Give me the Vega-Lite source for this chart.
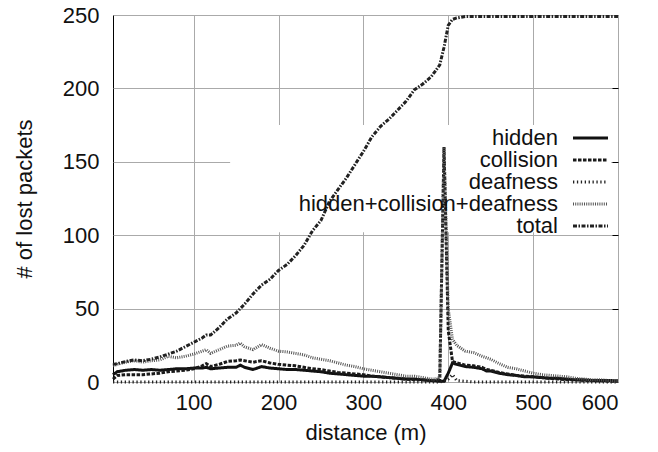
{
  "$schema": "https://vega.github.io/schema/vega-lite/v6.json",
  "width": 505,
  "height": 367,
  "autosize": {"type": "none"},
  "padding": {"left": 113, "top": 15, "right": 40, "bottom": 70},
  "config": {
    "font": "Liberation Sans",
    "view": {"stroke": "black", "strokeWidth": 1},
    "axis": {
      "labelFont": "Liberation Sans", "labelFontSize": 22, "labelColor": "#111",
      "titleFont": "Liberation Sans", "titleFontSize": 22, "titleFontWeight": "normal", "titleColor": "#111",
      "domain": false, "gridColor": "#aaaaaa", "gridWidth": 1, "gridOpacity": 1
    },
    "legend": {
      "orient": "none", "legendX": 466.5, "legendY": 112,
      "labelFont": "Liberation Sans", "labelFontSize": 22, "labelColor": "#111",
      "labelAlign": "right", "labelOffset": -43.5, "labelLimit": 400,
      "symbolType": "M-3.5,0H3.5", "symbolSize": 100, "rowPadding": -0.5, "padding": 0
    }
  },
  "layer": [
    {
      "data": {"values": [{}]},
      "mark": {"type": "rect", "color": "white"},
      "encoding": {
        "x": {"datum": 143, "type": "quantitative", "scale": {"domain": [5, 600], "nice": false, "zero": false}, "axis": null},
        "x2": {"datum": 592},
        "y": {"datum": 102, "type": "quantitative", "scale": {"domain": [0, 250], "nice": false}, "axis": {"orient": "right", "values": [50, 100, 150, 200], "labels": false, "grid": false, "ticks": true, "tickSize": -6, "tickColor": "black", "tickWidth": 1, "title": null, "zindex": 1}},
        "y2": {"datum": 175}
      }
    },
    {
      "data": {"values": [
        {"distance": 5, "hidden": 5, "collision": 2, "deafness": 0, "hidden+collision+deafness": 11, "total": 12},
        {"distance": 10, "hidden": 7, "collision": 4.5, "deafness": 0, "hidden+collision+deafness": 12, "total": 12.5},
        {"distance": 20, "hidden": 8, "collision": 5, "deafness": 0, "hidden+collision+deafness": 13.5, "total": 14},
        {"distance": 30, "hidden": 8.5, "collision": 5, "deafness": 0, "hidden+collision+deafness": 14.5, "total": 15},
        {"distance": 40, "hidden": 8, "collision": 5, "deafness": 0, "hidden+collision+deafness": 13.5, "total": 14.5},
        {"distance": 50, "hidden": 8.5, "collision": 5.5, "deafness": 0, "hidden+collision+deafness": 14.5, "total": 15.5},
        {"distance": 60, "hidden": 8, "collision": 6, "deafness": 0, "hidden+collision+deafness": 15, "total": 17},
        {"distance": 70, "hidden": 8.5, "collision": 7, "deafness": 0, "hidden+collision+deafness": 17.5, "total": 19},
        {"distance": 80, "hidden": 9, "collision": 7.5, "deafness": 0, "hidden+collision+deafness": 16.5, "total": 21},
        {"distance": 90, "hidden": 9, "collision": 8, "deafness": 0, "hidden+collision+deafness": 17.5, "total": 24},
        {"distance": 100, "hidden": 9.5, "collision": 9, "deafness": 0, "hidden+collision+deafness": 19, "total": 27},
        {"distance": 110, "hidden": 9.5, "collision": 11, "deafness": 0, "hidden+collision+deafness": 21, "total": 30},
        {"distance": 115, "hidden": 10, "collision": 12.5, "deafness": 0, "hidden+collision+deafness": 22, "total": 32},
        {"distance": 120, "hidden": 9, "collision": 10.5, "deafness": 0, "hidden+collision+deafness": 19.5, "total": 32},
        {"distance": 130, "hidden": 9.5, "collision": 12, "deafness": 0, "hidden+collision+deafness": 22, "total": 37},
        {"distance": 140, "hidden": 10, "collision": 14, "deafness": 0, "hidden+collision+deafness": 24.5, "total": 43},
        {"distance": 150, "hidden": 10, "collision": 14.5, "deafness": 0, "hidden+collision+deafness": 25, "total": 47},
        {"distance": 155, "hidden": 11.5, "collision": 15, "deafness": 0, "hidden+collision+deafness": 26.5, "total": 50},
        {"distance": 160, "hidden": 10, "collision": 14.5, "deafness": 0, "hidden+collision+deafness": 24, "total": 53},
        {"distance": 170, "hidden": 8.5, "collision": 13.5, "deafness": 0, "hidden+collision+deafness": 22, "total": 60},
        {"distance": 180, "hidden": 10.5, "collision": 14.5, "deafness": 0, "hidden+collision+deafness": 25.5, "total": 66},
        {"distance": 190, "hidden": 9.5, "collision": 13, "deafness": 0, "hidden+collision+deafness": 23, "total": 70},
        {"distance": 200, "hidden": 9, "collision": 12, "deafness": 0, "hidden+collision+deafness": 21, "total": 76},
        {"distance": 210, "hidden": 8.5, "collision": 11.5, "deafness": 0, "hidden+collision+deafness": 20.5, "total": 80},
        {"distance": 220, "hidden": 8.5, "collision": 11, "deafness": 0, "hidden+collision+deafness": 19.5, "total": 86},
        {"distance": 230, "hidden": 8, "collision": 10, "deafness": 0, "hidden+collision+deafness": 18.5, "total": 93},
        {"distance": 240, "hidden": 7.5, "collision": 9, "deafness": 0, "hidden+collision+deafness": 16.5, "total": 103},
        {"distance": 250, "hidden": 7, "collision": 8.5, "deafness": 0, "hidden+collision+deafness": 15.5, "total": 110},
        {"distance": 260, "hidden": 6, "collision": 7.5, "deafness": 0, "hidden+collision+deafness": 14.5, "total": 123},
        {"distance": 270, "hidden": 5.5, "collision": 6.5, "deafness": 0, "hidden+collision+deafness": 13, "total": 131},
        {"distance": 280, "hidden": 5, "collision": 6, "deafness": 0, "hidden+collision+deafness": 11.5, "total": 139},
        {"distance": 290, "hidden": 4.5, "collision": 5.5, "deafness": 0, "hidden+collision+deafness": 10.5, "total": 148},
        {"distance": 300, "hidden": 4, "collision": 5, "deafness": 0, "hidden+collision+deafness": 9, "total": 157},
        {"distance": 310, "hidden": 4, "collision": 4, "deafness": 0, "hidden+collision+deafness": 8, "total": 167},
        {"distance": 320, "hidden": 3.5, "collision": 3.5, "deafness": 0, "hidden+collision+deafness": 7, "total": 174},
        {"distance": 330, "hidden": 3, "collision": 3, "deafness": 0, "hidden+collision+deafness": 6, "total": 179},
        {"distance": 340, "hidden": 2.5, "collision": 2.5, "deafness": 0, "hidden+collision+deafness": 5, "total": 185},
        {"distance": 350, "hidden": 2, "collision": 2, "deafness": 0, "hidden+collision+deafness": 4, "total": 191},
        {"distance": 360, "hidden": 2, "collision": 1.5, "deafness": 0, "hidden+collision+deafness": 4, "total": 199},
        {"distance": 370, "hidden": 1.5, "collision": 1.5, "deafness": 0, "hidden+collision+deafness": 3, "total": 203},
        {"distance": 380, "hidden": 1, "collision": 1, "deafness": 0, "hidden+collision+deafness": 2, "total": 208},
        {"distance": 385, "hidden": 0.8, "collision": 1, "deafness": 0, "hidden+collision+deafness": 2, "total": 212},
        {"distance": 390, "hidden": 0.5, "collision": 2, "deafness": 0, "hidden+collision+deafness": 3, "total": 216},
        {"distance": 395, "hidden": 0.5, "collision": 160, "deafness": 0.5, "hidden+collision+deafness": 160, "total": 228},
        {"distance": 400, "hidden": 6, "collision": 35, "deafness": 2, "hidden+collision+deafness": 50, "total": 243},
        {"distance": 405, "hidden": 13, "collision": 14, "deafness": 5, "hidden+collision+deafness": 29, "total": 247},
        {"distance": 410, "hidden": 12, "collision": 13, "deafness": 1, "hidden+collision+deafness": 25, "total": 248},
        {"distance": 420, "hidden": 10.5, "collision": 11.5, "deafness": 0.5, "hidden+collision+deafness": 21, "total": 249},
        {"distance": 430, "hidden": 10, "collision": 11, "deafness": 0, "hidden+collision+deafness": 20, "total": 249},
        {"distance": 440, "hidden": 9, "collision": 10, "deafness": 0, "hidden+collision+deafness": 17.5, "total": 249},
        {"distance": 445, "hidden": 7.5, "collision": 8.5, "deafness": 0, "hidden+collision+deafness": 16.5, "total": 249},
        {"distance": 450, "hidden": 7.5, "collision": 8, "deafness": 0, "hidden+collision+deafness": 15.5, "total": 249},
        {"distance": 460, "hidden": 6, "collision": 6.5, "deafness": 0, "hidden+collision+deafness": 12.5, "total": 249},
        {"distance": 470, "hidden": 5, "collision": 5.5, "deafness": 0, "hidden+collision+deafness": 10, "total": 249},
        {"distance": 480, "hidden": 4.5, "collision": 4.5, "deafness": 0, "hidden+collision+deafness": 9, "total": 249},
        {"distance": 490, "hidden": 3.5, "collision": 4, "deafness": 0, "hidden+collision+deafness": 7.5, "total": 249},
        {"distance": 500, "hidden": 3.5, "collision": 3.5, "deafness": 0, "hidden+collision+deafness": 6, "total": 249},
        {"distance": 510, "hidden": 3, "collision": 3, "deafness": 0, "hidden+collision+deafness": 5, "total": 249},
        {"distance": 520, "hidden": 2.5, "collision": 2.5, "deafness": 0, "hidden+collision+deafness": 4.5, "total": 249},
        {"distance": 530, "hidden": 2.5, "collision": 2, "deafness": 0, "hidden+collision+deafness": 4, "total": 249},
        {"distance": 540, "hidden": 2, "collision": 1.5, "deafness": 0, "hidden+collision+deafness": 3.5, "total": 249},
        {"distance": 550, "hidden": 1.5, "collision": 1.5, "deafness": 0, "hidden+collision+deafness": 2.5, "total": 249},
        {"distance": 560, "hidden": 1.5, "collision": 1, "deafness": 0, "hidden+collision+deafness": 2, "total": 249},
        {"distance": 570, "hidden": 1, "collision": 1, "deafness": 0, "hidden+collision+deafness": 1.5, "total": 249},
        {"distance": 580, "hidden": 1, "collision": 0.8, "deafness": 0, "hidden+collision+deafness": 1.5, "total": 249},
        {"distance": 590, "hidden": 1, "collision": 0.5, "deafness": 0, "hidden+collision+deafness": 1, "total": 249},
        {"distance": 600, "hidden": 0.8, "collision": 0.5, "deafness": 0, "hidden+collision+deafness": 1, "total": 249}
      ]},
      "transform": [
        {"fold": ["hidden", "collision", "deafness", "hidden+collision+deafness", "total"], "as": ["series", "lost"]}
      ],
      "mark": {"type": "line", "strokeCap": "butt", "strokeJoin": "miter"},
      "encoding": {
        "x": {"field": "distance", "type": "quantitative", "scale": {"domain": [5, 600], "nice": false, "zero": false},
          "axis": {"orient": "bottom", "values": [100, 200, 300, 400, 500, 600], "grid": true, "ticks": false, "labelPadding": 10, "title": "distance (m)", "titlePadding": 9}},
        "y": {"field": "lost", "type": "quantitative", "scale": {"domain": [0, 250], "nice": false},
          "axis": {"orient": "left", "values": [0, 50, 100, 150, 200, 250], "grid": true, "ticks": false, "labelPadding": 14, "title": "# of lost packets", "titlePadding": 26}},
        "detail": {"field": "series"},
        "color": {"field": "series", "type": "nominal", "title": null,
          "scale": {"domain": ["hidden", "collision", "deafness", "hidden+collision+deafness", "total"], "range": ["#111111", "#1a1a1a", "#222222", "#555555", "#222222"]}},
        "strokeDash": {"field": "series", "type": "nominal", "title": null,
          "scale": {"domain": ["hidden", "collision", "deafness", "hidden+collision+deafness", "total"], "range": [[1, 0], [3.5, 1.5], [1.3, 2.6], [1, 1.2], [4, 1.5, 1.5, 1.5]]}},
        "strokeWidth": {"field": "series", "type": "nominal", "title": null,
          "scale": {"domain": ["hidden", "collision", "deafness", "hidden+collision+deafness", "total"], "range": [3, 3, 2, 2.5, 3]}},
        "order": {"field": "distance", "type": "quantitative"}
      }
    }
  ],
  "resolve": {"axis": {"x": "independent", "y": "independent"}}
}
